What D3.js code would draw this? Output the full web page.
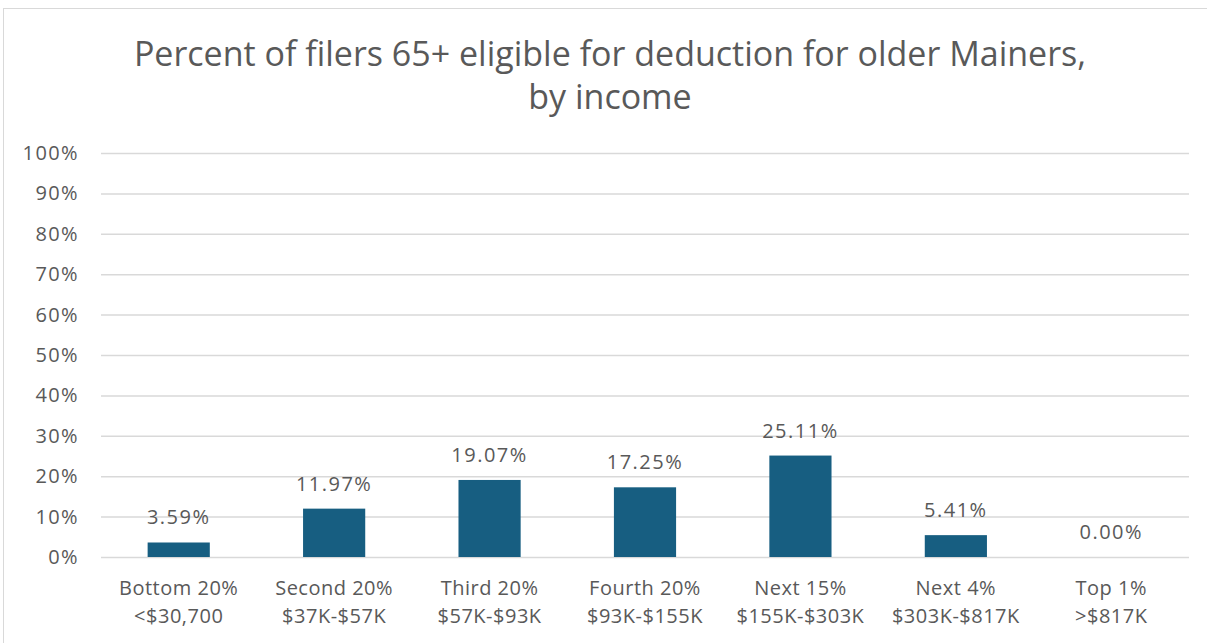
<!DOCTYPE html>
<html>
<head>
<meta charset="utf-8">
<script src="https://cdn.jsdelivr.net/npm/d3@7"></script>
<style>
  html, body { margin: 0; padding: 0; background: #fff; }
  svg text { font-family: "Open Sans", "Noto Sans", sans-serif; fill: #595959; }
</style>
</head>
<body>
<svg id="chart" width="1207" height="643"></svg>
<script>
// Income groups (two-line category labels)
const groupNames = ["Bottom 20%", "Second 20%", "Third 20%", "Fourth 20%", "Next 15%", "Next 4%", "Top 1%"];
const incomeRanges = ["<$30,700", "$37K-$57K", "$57K-$93K", "$93K-$155K", "$155K-$303K", "$303K-$817K", ">$817K"];
// Share of filers 65+ eligible, in percent
const eligiblePct = [3.59, 11.97, 19.07, 17.25, 25.11, 5.41, 0.00];
const yTicks = [0, 10, 20, 30, 40, 50, 60, 70, 80, 90, 100];
const titleLines = ["Percent of filers 65+ eligible for deduction for older Mainers,", "by income"];

const svg = d3.select("#chart");
const W = 1207, H = 643;
const plot = { left: 101, right: 1189, top: 153, bottom: 557 };

// chart frame
svg.append("rect")
  .attr("x", 3.5).attr("y", 8.5)
  .attr("width", W + 10).attr("height", H + 10)
  .attr("fill", "#fff").attr("stroke", "#d9d9d9").attr("stroke-width", 1);

const x = d3.scaleBand()
  .domain(groupNames)
  .range([plot.left, plot.right])
  .paddingInner(0.6)
  .paddingOuter(0.3);

const y = d3.scaleLinear().domain([0, 100]).range([plot.bottom, plot.top]);

// title
svg.append("text")
  .attr("x", 610).attr("y", 66)
  .attr("text-anchor", "middle")
  .style("font-size", "34px")
  .selectAll("tspan")
  .data(titleLines)
  .join("tspan")
  .attr("x", 610)
  .attr("dy", (d, i) => i === 0 ? 0 : 43)
  .text(d => d);

// gridlines + y labels
const yAxis = d3.axisLeft(y)
  .tickValues(yTicks)
  .tickFormat(d => d + "%")
  .tickSize(-(plot.right - plot.left))
  .tickPadding(22);

const gy = svg.append("g")
  .attr("transform", `translate(${plot.left},0)`)
  .call(yAxis);
gy.select(".domain").remove();
gy.selectAll(".tick line").attr("stroke", "#d9d9d9").attr("stroke-width", 1.5);
gy.selectAll(".tick text")
  .attr("fill", "#595959")
  .style("font-size", "20px")
  .style("letter-spacing", "1.4px");

// bars
svg.append("g")
  .selectAll("rect")
  .data(eligiblePct)
  .join("rect")
  .attr("x", (d, i) => x(groupNames[i]))
  .attr("y", d => y(d))
  .attr("width", x.bandwidth())
  .attr("height", d => y(0) - y(d))
  .attr("fill", "#175e81");

// value labels
svg.append("g")
  .selectAll("text")
  .data(eligiblePct)
  .join("text")
  .attr("x", (d, i) => x(groupNames[i]) + x.bandwidth() / 2)
  .attr("y", d => y(d) - 18)
  .attr("text-anchor", "middle")
  .style("font-size", "20px")
  .style("letter-spacing", "1.5px")
  .text(d => d.toFixed(2) + "%");

// category labels
const cat = svg.append("g")
  .selectAll("text")
  .data(groupNames)
  .join("text")
  .attr("x", d => x(d) + x.bandwidth() / 2)
  .attr("y", 595)
  .attr("text-anchor", "middle")
  .style("font-size", "20px")
  .style("letter-spacing", "0.5px");
cat.append("tspan")
  .attr("x", d => x(d) + x.bandwidth() / 2)
  .text(d => d);
cat.append("tspan")
  .attr("x", d => x(d) + x.bandwidth() / 2)
  .attr("dy", 28)
  .text((d, i) => incomeRanges[i]);
</script>
</body>
</html>
